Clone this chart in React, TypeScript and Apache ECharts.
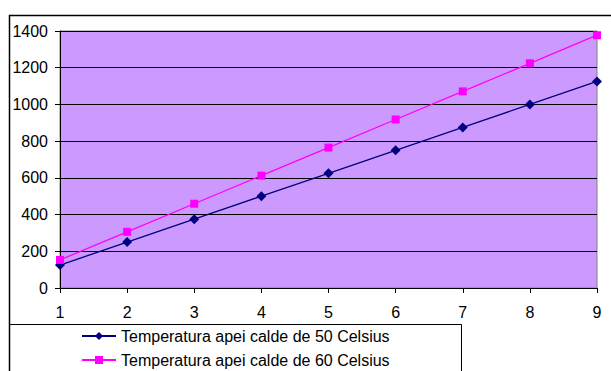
import React, { useEffect, useRef } from "react";
import * as echarts from "echarts";

const categories = ["1", "2", "3", "4", "5", "6", "7", "8", "9"];
const series50 = [125, 250, 375, 500, 625, 750, 875, 1000, 1125];
const series60 = [153, 306, 459, 612, 765, 918, 1071, 1224, 1377];
const name50 = "Temperatura apei calde de 50 Celsius";
const name60 = "Temperatura apei calde de 60 Celsius";

export default function App() {
  const ref = useRef<HTMLDivElement>(null);
  useEffect(() => {
    document.body.style.margin = "0";
    const chart = echarts.init(ref.current!, null, { renderer: "svg" });
    const font = "'Liberation Sans', Arial, sans-serif";
    const legendCommon = {
      orient: "horizontal",
      left: 81,
      itemWidth: 34,
      itemHeight: 10,
      padding: 0,
      textStyle: { color: "#000", fontSize: 16, fontFamily: font },
    };
    chart.setOption({
      animation: false,
      backgroundColor: "#ffffff",
      textStyle: { fontFamily: font },
      grid: {
        left: 60,
        top: 31,
        right: 14,
        bottom: 83,
        show: true,
        backgroundColor: "#CC99FF",
        borderColor: "#808080",
        borderWidth: 1,
      },
      xAxis: {
        type: "category",
        data: categories,
        boundaryGap: false,
        axisLine: { lineStyle: { color: "#000", width: 1 } },
        axisTick: { show: true, length: 5, lineStyle: { color: "#000" } },
        axisLabel: { color: "#000", fontSize: 16, margin: 16, fontFamily: font },
        splitLine: { show: false },
      },
      yAxis: {
        type: "value",
        min: 0,
        max: 1400,
        interval: 200,
        axisLine: { show: true, lineStyle: { color: "#000", width: 1 } },
        axisTick: { show: true, length: 5, lineStyle: { color: "#000" } },
        axisLabel: {
          color: "#000",
          fontSize: 16,
          margin: 12,
          fontFamily: font,
          formatter: (v: number) => String(v),
        },
        splitLine: { show: true, lineStyle: { color: "#000", width: 1 } },
      },
      legend: [
        { ...legendCommon, top: 328, data: [name50] },
        { ...legendCommon, top: 352, data: [name60] },
      ],
      graphic: [
        {
          type: "rect",
          shape: { x: 9.5, y: 15.5, width: 700, height: 500 },
          style: { fill: "none", stroke: "#000", lineWidth: 1.5 },
          silent: true,
          z: 100,
        },
        {
          type: "rect",
          shape: { x: 9.5, y: 324.5, width: 452, height: 100 },
          style: { fill: "none", stroke: "#000", lineWidth: 1 },
          silent: true,
          z: 100,
        },
      ],
      series: [
        {
          name: name50,
          type: "line",
          data: series50,
          symbol: "diamond",
          symbolSize: 10,
          itemStyle: { color: "#000080" },
          lineStyle: { color: "#000080", width: 1.3 },
        },
        {
          name: name60,
          type: "line",
          data: series60,
          symbol: "rect",
          symbolSize: 8,
          itemStyle: { color: "#FF00FF" },
          lineStyle: { color: "#FF00FF", width: 1.3 },
        },
      ],
    });
    return () => chart.dispose();
  }, []);
  return <div ref={ref} style={{ width: 611, height: 371 }} />;
}
